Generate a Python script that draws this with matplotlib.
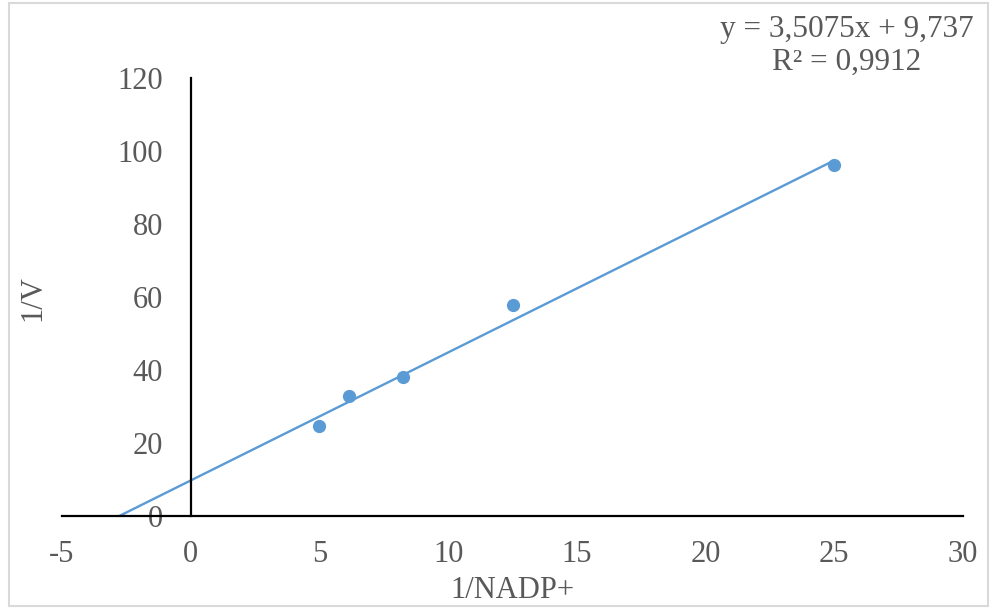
import numpy as np
import matplotlib
matplotlib.use("Agg")
import matplotlib.pyplot as plt
from matplotlib.patches import Rectangle

plt.rcParams['font.family'] = ['Liberation Serif', 'DejaVu Serif']
plt.rcParams['axes.unicode_minus'] = False

# Lineweaver-Burk data
inv_nadp = [5.0, 6.15, 8.25, 12.5, 25.0]
inv_v = [24.6, 33.0, 38.1, 57.8, 96.2]
slope = 3.5075
intercept = 9.737
r_squared = 0.9912

x_ticks = [-5, 0, 5, 10, 15, 20, 25, 30]
y_ticks = [0, 20, 40, 60, 80, 100, 120]

blue = '#5B9BD5'
grey_text = '#595959'

fig = plt.figure(figsize=(9.9, 6.1), dpi=100)
ax = fig.add_axes([62/990, 94/610, 901/990, 438/610])

# trendline extended back to the x intercept
x_start = -intercept / slope
x_line = np.array([x_start, max(inv_nadp)])
ax.plot(x_line, slope * x_line + intercept, color=blue, lw=1.7, zorder=2)
ax.plot(inv_nadp, inv_v, 'o', color=blue, ms=8.5, zorder=3)

ax.set_xlim(-5, 30)
ax.set_ylim(0, 120)
ax.set_xticks(x_ticks)
ax.set_yticks(y_ticks)

ax.spines['left'].set_position(('data', 0))
ax.spines['bottom'].set_position(('data', 0))
ax.spines['right'].set_visible(False)
ax.spines['top'].set_visible(False)
for s in ('left', 'bottom'):
    ax.spines[s].set_linewidth(1.6)
    ax.spines[s].set_color('black')

ax.tick_params(axis='both', length=0, labelsize=22, labelcolor=grey_text)
ax.tick_params(axis='y', pad=20)
ax.tick_params(axis='x', pad=17)

fig.text(33/990, 1 - 298/610, '1/V', rotation=90, ha='center', va='center',
         fontsize=22, color=grey_text)
fig.text(512/990, 1 - 590/610, '1/NADP+', ha='center', va='center',
         fontsize=22, color=grey_text)

eq = f"y = {slope:.4f}x + {intercept:.3f}".replace('.', ',')
r2 = f"R² = {r_squared:.4f}".replace('.', ',')
fig.text(847/990, 1 - 46/610, eq + "\n" + r2, ha='center', va='center',
         multialignment='center', fontsize=22.5, color=grey_text, linespacing=1.15)

# chart area border
fig.patches.append(Rectangle((9/990, 4/610), 979/990, 603/610, transform=fig.transFigure,
                             fill=False, edgecolor='#d9d9d9', lw=1.5))

fig.savefig('out.png', dpi=100)
